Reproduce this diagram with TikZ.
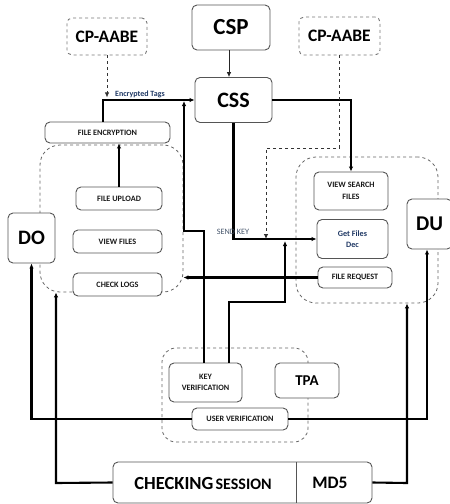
\documentclass[tikz,border=0pt]{standalone}
\usepackage{fontspec}
\setmainfont{Carlito}
\usetikzlibrary{arrows.meta}
\definecolor{bordergray}{HTML}{555555}
\definecolor{navy}{HTML}{1F3864}
\definecolor{slate}{HTML}{44546A}
\begin{document}
\begin{tikzpicture}[x=1pt,y=-1pt,
  box/.style={draw=bordergray,line width=0.9pt,rounded corners=5pt,fill=white,inner sep=1pt,align=center,font=\bfseries},
  dbox/.style={box,dashed,draw=bordergray!80},
  grp/.style={draw=bordergray!90,dashed,line width=0.8pt,rounded corners=20pt,inner sep=0pt},
  small/.style={font=\bfseries\fontsize{8.2}{9.5}\selectfont,text=black!90},
  conn/.style={line width=2.1pt,black},
  tip/.style={-{Latex[length=5pt,width=4.5pt]}},
  dconn/.style={dashed,line width=0.8pt,black!80}]
\useasboundingbox (0,0) rectangle (450,504);
% groups
\node[grp,minimum width=143pt,minimum height=147pt] (gL) at (111.5,218.5) {};
\node[grp,minimum width=142pt,minimum height=146pt] (gR) at (367,230) {};
\node[grp,minimum width=146pt,minimum height=94pt,rounded corners=14pt] (gT) at (235,395) {};
% top boxes
\node[dbox,minimum width=80pt,minimum height=37pt,font=\bfseries\fontsize{17.5}{20}\selectfont] (cpL) at (107,36.5) {CP-AABE};
\node[box,minimum width=78pt,minimum height=45pt,font=\bfseries\fontsize{23}{26}\selectfont] (csp) at (231,27.5) {CSP};
\node[dbox,minimum width=81pt,minimum height=38pt,font=\bfseries\fontsize{17.5}{20}\selectfont] (cpR) at (339.5,36) {CP-AABE};
\node[box,minimum width=77pt,minimum height=45pt,font=\bfseries\fontsize{22}{26}\selectfont] (css) at (233.5,100) {CSS};
% left group
\node[box,small,minimum width=125pt,minimum height=21pt] (fenc) at (107.5,132.5) {FILE ENCRYPTION};
\node[box,small,minimum width=86pt,minimum height=23pt] (fup) at (119,198.5) {FILE UPLOAD};
\node[box,small,minimum width=89pt,minimum height=23pt] (vfiles) at (117.5,241.5) {VIEW FILES};
\node[box,small,minimum width=89pt,minimum height=23pt] (clogs) at (117.5,284.5) {CHECK LOGS};
\node[box,minimum width=47pt,minimum height=50pt,font=\bfseries\fontsize{20.5}{24}\selectfont] (do) at (31.5,238) {DO};
% right group
\node[box,small,minimum width=74pt,minimum height=38pt] (vsearch) at (351,191) {VIEW SEARCH\\[2pt]FILES};
\node[box,small,minimum width=71pt,minimum height=39pt,text=navy] (getf) at (352.5,239) {Get Files\\[2pt]Dec};
\node[box,small,minimum width=74pt,minimum height=21pt] (freq) at (355,277.5) {FILE REQUEST};
\node[box,minimum width=45pt,minimum height=50pt,font=\bfseries\fontsize{21}{24}\selectfont] (du) at (429.5,224) {DU};
% TPA group
\node[box,small,minimum width=73pt,minimum height=39pt] (keyv) at (205.5,382.5) {KEY\\[2pt]VERIFICATION};
\node[box,small,minimum width=96pt,minimum height=22pt] (userv) at (240,419) {USER VERIFICATION};
\node[box,minimum width=64pt,minimum height=35pt,font=\bfseries\fontsize{15}{18}\selectfont] (tpa) at (307,380.5) {TPA};
% checking session
\node[box,minimum width=259pt,minimum height=41pt] (sess) at (242.5,482.5) {};
\node[font=\bfseries,inner sep=0pt] (sesslbl) at (203,483) {{\fontsize{18.5}{22}\selectfont CHECKING} {\fontsize{16}{18}\selectfont SESSION}};
\node[font=\bfseries\fontsize{17.5}{22}\selectfont,inner sep=0pt] (md5) at (330,483) {MD5};
\draw[bordergray,line width=0.9pt] (296,462) -- (296,503);
% coordinates
\coordinate (tagin) at (184,101);
\coordinate (k1) at (204,231);
\coordinate (k2) at (184,231);
\coordinate (k3) at (229,302);
\coordinate (k4) at (285,302);
\coordinate (k5) at (285,241);
\coordinate (r1) at (339.5,148);
\coordinate (r2) at (266,148);
\coordinate (r3) at (266,239);
\coordinate (s1) at (56,483);
\coordinate (s2) at (407,483);
% connectors
\draw[black!85,line width=0.7pt,tip] (csp.south -| 229,0) -- (css.north -| 229,0);
\draw[dconn,tip] (cpL.south) -- ++(0,42);
\draw[conn,tip] ([xshift=-4.5pt]fenc.north) |- (css.west);
\node[font=\bfseries\fontsize{8}{9}\selectfont,text=navy,anchor=south west,inner sep=1pt] (tags) at (114,99) {Encrypted Tags};
\draw[conn,tip] (keyv.north -| k1) -- (k1) -- (k2) -- (tagin);
\draw[conn,tip] (fup.north) -- (fenc.south -| fup.north);
\draw[conn,tip] (css.south) |- (getf.west);
\node[font=\fontsize{8.2}{9}\selectfont,text=slate,inner sep=0pt] (sendkey) at (233,232) {SEND KEY};
\draw[conn,tip] (css.east) -| (vsearch.north);
\draw[dconn,tip] (cpR.south) -- (r1) -- (r2) -- (r3);
\draw[conn,tip] (keyv.north -| k3) -- (k3) -- (k4) -- (k5);
\draw[conn,tip] (freq.west) -- (freq.west -| gL.east);
\draw[conn,tip] (userv.west) -| (do.south);
\draw[conn,tip] (userv.east) -| (du.south -| 427,0);
\draw[conn,tip] (sess.west) -- (s1) -- (s1 |- gL.south);
\draw[conn,tip] (sess.east) -- (s2) -- (s2 |- gR.south);
\end{tikzpicture}
\end{document}
